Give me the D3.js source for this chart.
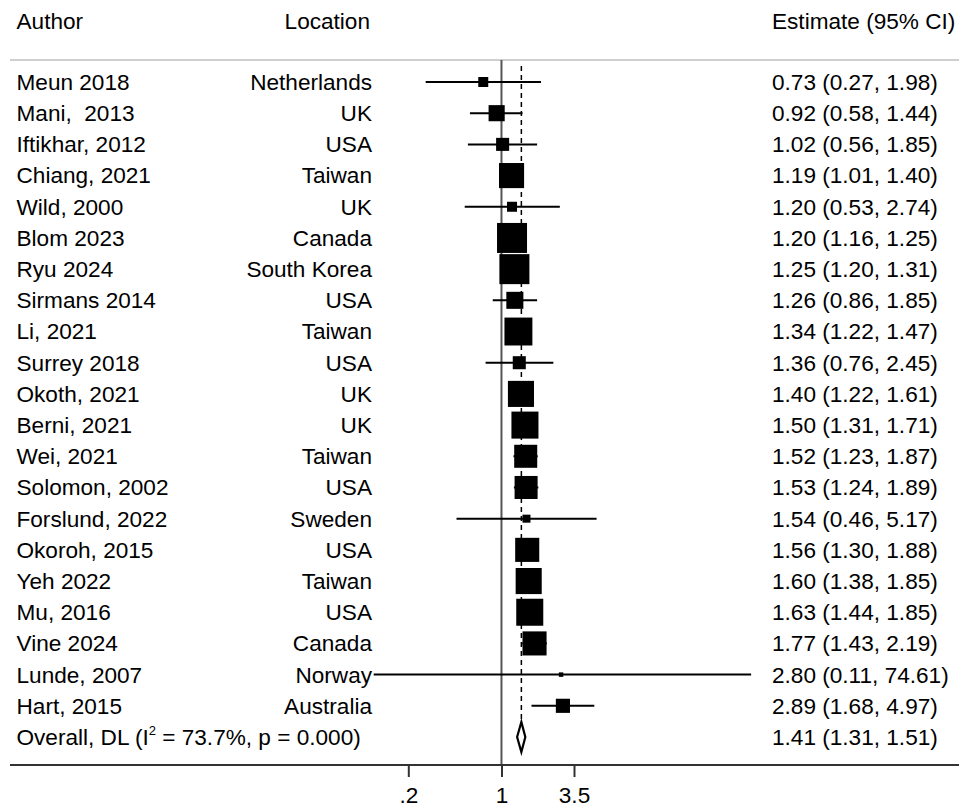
<!DOCTYPE html>
<html>
<head>
<meta charset="utf-8">
<script src="https://cdn.jsdelivr.net/npm/d3@7"></script>
<style>
  html, body { margin: 0; padding: 0; background: #fff; }
  svg { display: block; font-family: "Liberation Sans", Arial, sans-serif; }
</style>
</head>
<body>
<svg id="chart" width="959" height="807"></svg>
<script>
// ---- data ----
const authors = ["Meun 2018", "Mani,  2013", "Iftikhar, 2012", "Chiang, 2021", "Wild, 2000", "Blom 2023",
  "Ryu 2024", "Sirmans 2014", "Li, 2021", "Surrey 2018", "Okoth, 2021", "Berni, 2021", "Wei, 2021",
  "Solomon, 2002", "Forslund, 2022", "Okoroh, 2015", "Yeh 2022", "Mu, 2016", "Vine 2024", "Lunde, 2007", "Hart, 2015"];
const locations = ["Netherlands", "UK", "USA", "Taiwan", "UK", "Canada", "South Korea", "USA", "Taiwan", "USA",
  "UK", "UK", "Taiwan", "USA", "Sweden", "USA", "Taiwan", "USA", "Canada", "Norway", "Australia"];
const estimates = [0.73, 0.92, 1.02, 1.19, 1.20, 1.20, 1.25, 1.26, 1.34, 1.36, 1.40, 1.50, 1.52, 1.53, 1.54, 1.56, 1.60, 1.63, 1.77, 2.80, 2.89];
const lowers    = [0.27, 0.58, 0.56, 1.01, 0.53, 1.16, 1.20, 0.86, 1.22, 0.76, 1.22, 1.31, 1.23, 1.24, 0.46, 1.30, 1.38, 1.44, 1.43, 0.11, 1.68];
const uppers    = [1.98, 1.44, 1.85, 1.40, 2.74, 1.25, 1.31, 1.85, 1.47, 2.45, 1.61, 1.71, 1.87, 1.89, 5.17, 1.88, 1.85, 1.85, 2.19, 74.61, 4.97];
// estimated study weights (%)
const weights   = [1.0, 2.6, 1.7, 6.3, 1.0, 9.0, 9.0, 2.9, 7.8, 1.7, 6.8, 7.3, 5.3, 5.3, 0.64, 5.8, 6.8, 7.3, 5.8, 0.2, 2.0];
const overall = { est: 1.41, lo: 1.31, hi: 1.51, label: "Overall, DL (I", sup: "2", rest: " = 73.7%, p = 0.000)" };
const tickValues = [0.2, 1, 3.5];
const tickLabels = [".2", "1", "3.5"];
const headers = ["Author", "Location", "Estimate (95% CI)"];

// ---- layout ----
const svg = d3.select("#chart");
const W = 959, H = 807;
const fontSize = 22.6;
const nRows = authors.length + 1;

const x = d3.scaleLog().domain([0.2, 3.5]).range([408.3, 574.0]);
const y = d3.scaleLinear().domain([0, nRows - 1]).range([82, 737]);
const side = d3.scaleSqrt().domain([0, 9]).range([0, 30]);

const axisY = 765;
const topLineY = 60;
const authorX = 16.5, locX = 372, estX = 772;
const fmt = d3.format(".2f");

// top separator
svg.append("line").attr("x1", 10).attr("x2", W).attr("y1", topLineY).attr("y2", topLineY)
  .attr("stroke", "#cfcfcf").attr("stroke-width", 2);

// headers
const hdrY = 21;
svg.append("text").attr("x", authorX).attr("y", hdrY).attr("dy", "0.35em").attr("font-size", fontSize).text(headers[0]);
svg.append("text").attr("x", locX - 2).attr("y", hdrY).attr("dy", "0.35em").attr("font-size", fontSize).attr("text-anchor", "end").text(headers[1]);
svg.append("text").attr("x", estX).attr("y", hdrY).attr("dy", "0.35em").attr("font-size", fontSize).text(headers[2]);

// null line at 1
svg.append("line").attr("x1", x(1)).attr("x2", x(1)).attr("y1", topLineY).attr("y2", axisY)
  .attr("stroke", "#555").attr("stroke-width", 2);

// overall dashed line
svg.append("line").attr("x1", x(overall.est)).attr("x2", x(overall.est)).attr("y1", 66).attr("y2", 748)
  .attr("stroke", "#000").attr("stroke-width", 1.5).attr("stroke-dasharray", "5,4");

const rows = authors.map((a, i) => ({ author: a, loc: locations[i], est: estimates[i], lo: lowers[i], hi: uppers[i], w: weights[i], i }));

// text columns
svg.append("g").selectAll("text").data(rows).join("text")
  .attr("x", authorX).attr("y", d => y(d.i)).attr("dy", "0.35em").attr("font-size", fontSize)
  .attr("xml:space", "preserve").style("white-space", "pre").text(d => d.author);
svg.append("g").selectAll("text").data(rows).join("text")
  .attr("x", locX).attr("y", d => y(d.i)).attr("dy", "0.35em").attr("font-size", fontSize)
  .attr("text-anchor", "end").text(d => d.loc);
svg.append("g").selectAll("text").data(rows).join("text")
  .attr("x", estX).attr("y", d => y(d.i)).attr("dy", "0.35em").attr("font-size", fontSize)
  .text(d => `${fmt(d.est)} (${fmt(d.lo)}, ${fmt(d.hi)})`);

// boxes
svg.append("g").selectAll("rect").data(rows).join("rect")
  .attr("x", d => x(d.est) - side(d.w) / 2).attr("y", d => y(d.i) - side(d.w) / 2)
  .attr("width", d => side(d.w)).attr("height", d => side(d.w)).attr("fill", "#000");

// CI lines
svg.append("g").selectAll("line").data(rows).join("line")
  .attr("x1", d => x(d.lo)).attr("x2", d => x(d.hi)).attr("y1", d => y(d.i)).attr("y2", d => y(d.i))
  .attr("stroke", "#000").attr("stroke-width", 2);

// overall row
const oy = y(nRows - 1);
const ot = svg.append("text").attr("x", authorX).attr("y", oy).attr("dy", "0.35em").attr("font-size", fontSize);
ot.append("tspan").text(overall.label);
ot.append("tspan").attr("font-size", 13).attr("dy", "-0.75em").text(overall.sup);
ot.append("tspan").attr("dy", "0.43em").text(overall.rest);
svg.append("text").attr("x", estX).attr("y", oy).attr("dy", "0.35em").attr("font-size", fontSize)
  .text(`${fmt(overall.est)} (${fmt(overall.lo)}, ${fmt(overall.hi)})`);

const dh = 15;
svg.append("path")
  .attr("d", `M${x(overall.lo)},${oy} L${x(overall.est)},${oy - dh} L${x(overall.hi)},${oy} L${x(overall.est)},${oy + dh} Z`)
  .attr("fill", "#fff").attr("stroke", "#000").attr("stroke-width", 2.2);

// x axis
svg.append("line").attr("x1", 10).attr("x2", W).attr("y1", axisY).attr("y2", axisY)
  .attr("stroke", "#333").attr("stroke-width", 2);
const axis = d3.axisBottom(x).tickValues(tickValues).tickFormat((d, i) => tickLabels[i]).tickSize(12).tickPadding(10);
const gAxis = svg.append("g").attr("transform", `translate(0,${axisY})`).call(axis);
gAxis.select(".domain").remove();
gAxis.selectAll(".tick line").attr("stroke", "#333").attr("stroke-width", 2);
gAxis.selectAll(".tick text").attr("font-size", fontSize).attr("font-family", "Liberation Sans, Arial, sans-serif").attr("fill", "#000");
</script>
</body>
</html>
